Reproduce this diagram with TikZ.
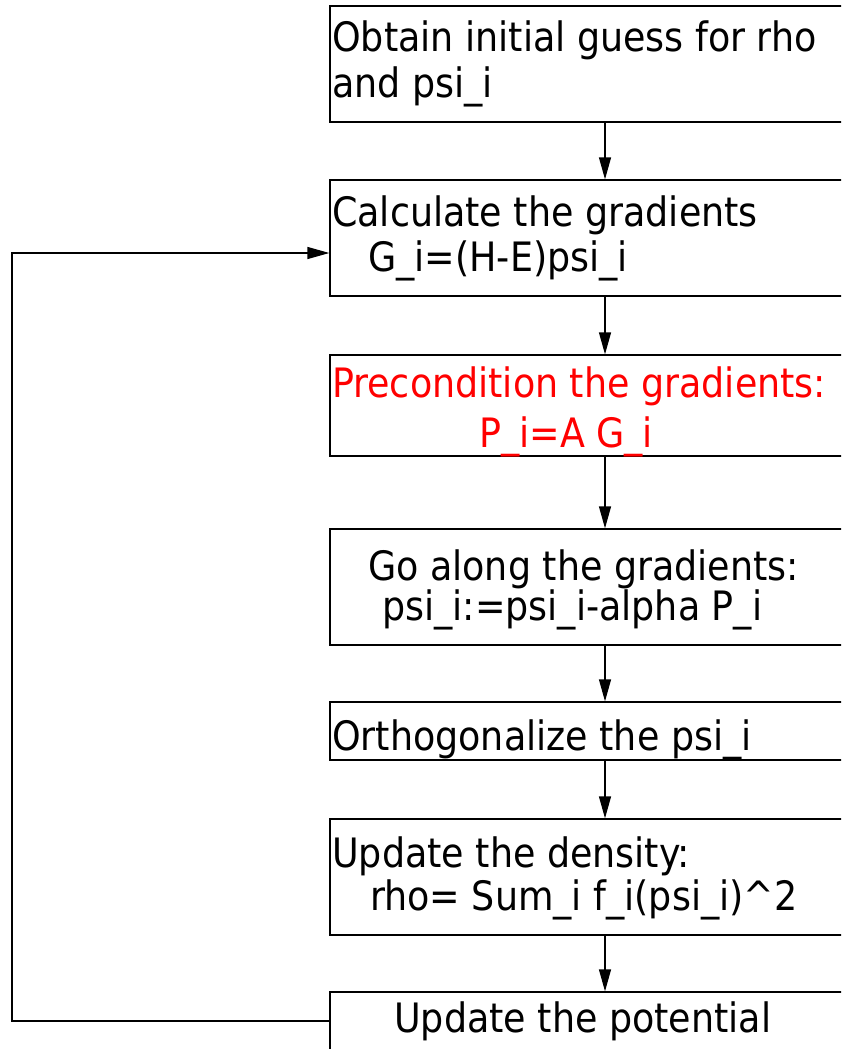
\documentclass[tikz,border=0pt]{standalone}
\usepackage{fontspec}
\setmainfont{DejaVu Sans Condensed}
\usetikzlibrary{arrows.meta, positioning, calc}
\definecolor{precred}{HTML}{FF0000}

\tikzset{
  box/.style={draw, line width=1.3pt, inner sep=0pt, minimum width=550pt},
  txt/.style={anchor=base west, inner sep=0pt, font=\fontsize{40.5}{46}\selectfont},
  flow/.style={line width=1.3pt, -{Triangle[length=22pt,width=12pt]}}
}

\begin{document}
\begin{tikzpicture}[x=1pt, y=-1pt]
  \useasboundingbox (0,0) rectangle (841,1049);
  \clip (0,0) rectangle (841,1049);
  % boxes
  \node[box, minimum height=116pt] (init) at (605,64) {};
  \node[box, minimum height=116pt] (grad) at (605,238) {};
  \node[box, minimum height=101pt] (prec) at (605,405.5) {};
  \node[box, minimum height=116pt] (move) at (605,587) {};
  \node[box, minimum height=58pt] (orth) at (605,731) {};
  \node[box, minimum height=116pt] (dens) at (605,877) {};
  \node[box, minimum height=116pt] (pot) at (605,1050) {};
  % texts
  \node[txt] (inita) at (332,52) {Obtain initial guess for rho};
  \node[txt] (initb) at (332,97) {and psi\_i};
  \node[txt] (grada) at (332,226) {Calculate the gradients};
  \node[txt] (gradb) at (368,271) {G\_i=(H-E)psi\_i};
  \node[txt, text=precred] (preca) at (332,397) {Precondition the gradients:};
  \node[txt, text=precred] (precb) at (479,447) {P\_i=A G\_i};
  \node[txt] (movea) at (368,580) {Go along the gradients:};
  \node[txt] (moveb) at (382,620) {psi\_i:=psi\_i-alpha P\_i};
  \node[txt] (ortha) at (332,750) {Orthogonalize the psi\_i};
  \node[txt] (densa) at (332,867) {Update the density:};
  \node[txt] (densb) at (370,910) {rho= Sum\_i f\_i(psi\_i)\^{}2};
  \node[txt] (pota) at (394,1032) {Update the potential};
  % connectors
  \draw[flow] (init) -- (grad);
  \draw[flow] (grad) -- (prec);
  \draw[flow] (prec) -- (move);
  \draw[flow] (move) -- (orth);
  \draw[flow] (orth) -- (dens);
  \draw[flow] (dens) -- (pot);
  \coordinate (loop) at (12,1021);
  \draw[flow] ([yshift=29pt]pot.west) -- (loop) |- ([yshift=-15pt]grad.west);
\end{tikzpicture}
\end{document}
